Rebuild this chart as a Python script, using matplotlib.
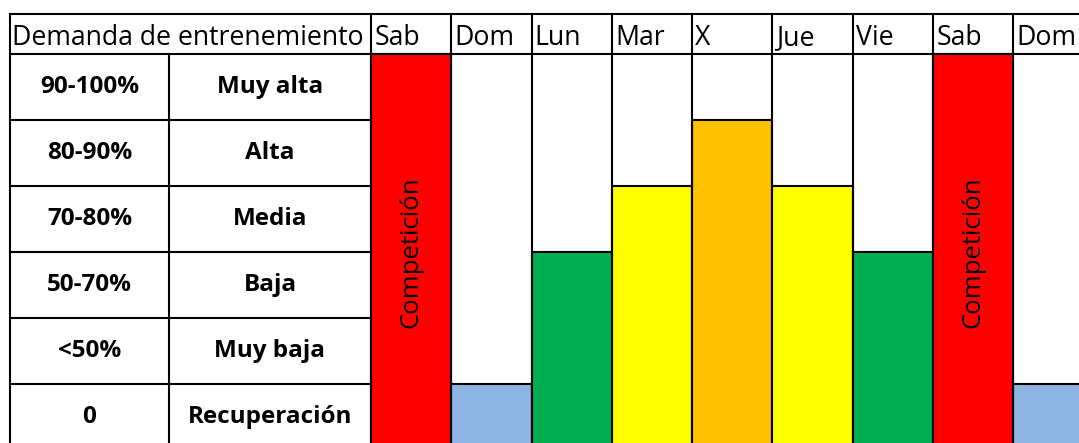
import matplotlib
matplotlib.use("Agg")
import matplotlib.pyplot as plt

# ---- data ----
days = ["Sab", "Dom", "Lun", "Mar", "X", "Jue", "Vie", "Sab", "Dom"]
levels = [6, 1, 3, 4, 5, 4, 3, 6, 1]
percent_labels = ["90-100%", "80-90%", "70-80%", "50-70%", "<50%", "0"]
level_names = ["Muy alta", "Alta", "Media", "Baja", "Muy baja", "Recuperación"]
header_title = "Demanda de entrenemiento"
competition_label = "Competición"

level_colors = {1: "#8EB4E3", 2: "#C5D9F1", 3: "#00B050", 4: "#FFFF00",
                5: "#FFC000", 6: "#FF0000"}

# ---- layout (column/row units) ----
x_border = -4.496
x_div = -2.516
y_top = 6.606
n_rows = len(level_names)

fig = plt.figure(figsize=(10.79, 4.43), dpi=100)
ax = fig.add_axes([0, 0, 1, 1])
ax.set_xlim(-4.62, 8.817)
ax.set_ylim(0.106, 6.818)
ax.axis("off")

lw = 1.5
font = "Open Sans"

# bars
xs = [i + 0.5 for i in range(len(days))]
ax.bar(xs, levels, width=1.0, bottom=0,
       color=[level_colors[v] for v in levels],
       edgecolor="black", linewidth=lw, zorder=2)

# grid lines for day columns
for i in range(len(days) + 1):
    ax.plot([i, i], [0, y_top], color="black", lw=lw, zorder=3)
# horizontal lines
ax.plot([x_border, len(days)], [y_top, y_top], color="black", lw=lw, zorder=3)
ax.plot([x_border, len(days)], [n_rows, n_rows], color="black", lw=lw, zorder=3)
for r in range(1, n_rows):
    ax.plot([x_border, 0], [r, r], color="black", lw=lw, zorder=3)
# left table verticals
ax.plot([x_border, x_border], [0, y_top], color="black", lw=lw, zorder=3)
ax.plot([x_div, x_div], [0, n_rows], color="black", lw=lw, zorder=3)

# header texts (common baseline)
y_base = 6.14
ax.text(x_border + 0.03, y_base, header_title, ha="left", va="baseline",
        fontsize=19.2, family=font, zorder=4)
for i, d in enumerate(days):
    ax.text(i + 0.04, y_base, d, ha="left", va="baseline",
            fontsize=19.2, family=font, zorder=4)

# table rows
for k, (p, name) in enumerate(zip(percent_labels, level_names)):
    yc = n_rows - k - 0.5
    ax.text((x_border + x_div) / 2, yc, p, ha="center", va="center",
            fontsize=17.5, fontweight="bold", family=font, zorder=4)
    ax.text((x_div + 0) / 2, yc, name, ha="center", va="center",
            fontsize=17.5, fontweight="bold", family=font, zorder=4)

# competition labels
for i, v in enumerate(levels):
    if v == n_rows:
        ax.text(i + 0.5, 3.0, competition_label, rotation=90, ha="center",
                va="center", fontsize=18.5, family=font, zorder=4)

fig.savefig("out.png", dpi=100)
